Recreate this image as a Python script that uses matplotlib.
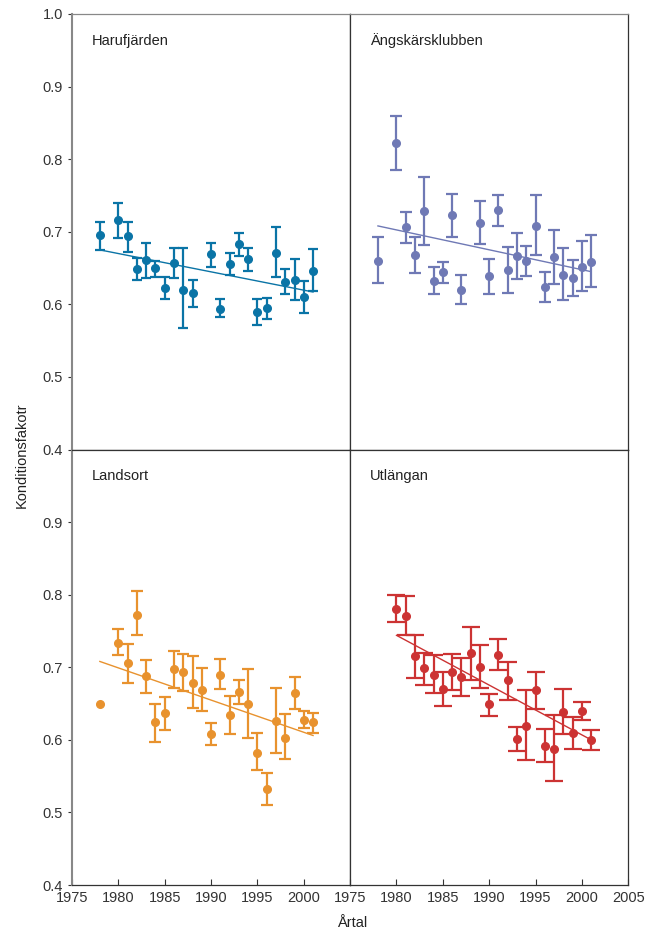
import matplotlib
matplotlib.use("Agg")
import matplotlib.pyplot as plt
import numpy as np

plt.rcParams['font.family'] = ['Liberation Sans', 'DejaVu Sans']

# --- data ---
years_haru = [1978, 1980, 1981, 1982, 1983, 1984, 1985, 1986, 1987, 1988, 1990,
              1991, 1992, 1993, 1994, 1995, 1996, 1997, 1998, 1999, 2000, 2001]
mean_haru = [0.695, 0.716, 0.694, 0.649, 0.661, 0.650, 0.623, 0.657, 0.620, 0.615, 0.669,
             0.594, 0.656, 0.683, 0.663, 0.589, 0.595, 0.671, 0.631, 0.634, 0.610, 0.646]
low_haru = [0.675, 0.691, 0.672, 0.634, 0.636, 0.638, 0.608, 0.636, 0.567, 0.597, 0.651,
            0.582, 0.640, 0.667, 0.646, 0.571, 0.580, 0.638, 0.614, 0.606, 0.588, 0.618]
high_haru = [0.713, 0.740, 0.714, 0.664, 0.685, 0.660, 0.638, 0.678, 0.678, 0.633, 0.685,
             0.607, 0.671, 0.698, 0.678, 0.608, 0.609, 0.706, 0.648, 0.663, 0.632, 0.676]
trend_haru = [(1978, 0.675), (2001, 0.617)]

years_angs = [1978, 1980, 1981, 1982, 1983, 1984, 1985, 1986, 1987, 1989, 1990,
              1991, 1992, 1993, 1994, 1995, 1996, 1997, 1998, 1999, 2000, 2001]
mean_angs = [0.660, 0.822, 0.706, 0.668, 0.728, 0.632, 0.644, 0.723, 0.620, 0.712, 0.639,
             0.730, 0.647, 0.666, 0.660, 0.708, 0.624, 0.665, 0.641, 0.636, 0.652, 0.659]
low_angs = [0.629, 0.785, 0.685, 0.643, 0.682, 0.614, 0.630, 0.693, 0.600, 0.683, 0.614,
            0.708, 0.615, 0.635, 0.639, 0.668, 0.603, 0.628, 0.606, 0.611, 0.619, 0.624]
high_angs = [0.693, 0.860, 0.727, 0.693, 0.775, 0.651, 0.658, 0.752, 0.640, 0.743, 0.663,
             0.751, 0.679, 0.698, 0.681, 0.751, 0.645, 0.702, 0.678, 0.661, 0.687, 0.695]
trend_angs = [(1978, 0.708), (2001, 0.645)]

years_land = [1978, 1980, 1981, 1982, 1983, 1984, 1985, 1986, 1987, 1988, 1989, 1990,
              1991, 1992, 1993, 1994, 1995, 1996, 1997, 1998, 1999, 2000, 2001]
mean_land = [0.649, 0.734, 0.706, 0.772, 0.688, 0.624, 0.637, 0.698, 0.693, 0.679, 0.669, 0.608,
             0.690, 0.634, 0.666, 0.650, 0.582, 0.532, 0.626, 0.603, 0.664, 0.627, 0.624]
low_land = [0.649, 0.717, 0.678, 0.745, 0.665, 0.597, 0.614, 0.671, 0.667, 0.644, 0.640, 0.593,
            0.670, 0.608, 0.649, 0.603, 0.558, 0.510, 0.582, 0.574, 0.643, 0.616, 0.610]
high_land = [0.649, 0.753, 0.732, 0.805, 0.710, 0.650, 0.659, 0.722, 0.718, 0.715, 0.699, 0.623,
             0.712, 0.660, 0.683, 0.698, 0.609, 0.554, 0.671, 0.636, 0.686, 0.640, 0.637]
trend_land = [(1978, 0.708), (2001, 0.606)]

years_utl = [1980, 1981, 1982, 1983, 1984, 1985, 1986, 1987, 1988, 1989, 1990,
             1991, 1992, 1993, 1994, 1995, 1996, 1997, 1998, 1999, 2000, 2001]
mean_utl = [0.780, 0.770, 0.716, 0.699, 0.690, 0.670, 0.693, 0.686, 0.719, 0.701, 0.649,
            0.717, 0.682, 0.601, 0.619, 0.669, 0.592, 0.588, 0.638, 0.610, 0.640, 0.600]
low_utl = [0.762, 0.745, 0.685, 0.675, 0.665, 0.647, 0.668, 0.660, 0.683, 0.671, 0.633,
           0.696, 0.655, 0.584, 0.572, 0.643, 0.569, 0.544, 0.608, 0.588, 0.628, 0.586]
high_utl = [0.799, 0.798, 0.745, 0.720, 0.717, 0.693, 0.718, 0.713, 0.755, 0.731, 0.663,
            0.739, 0.707, 0.618, 0.668, 0.694, 0.615, 0.634, 0.670, 0.632, 0.652, 0.614]
trend_utl = [(1980, 0.744), (2001, 0.600)]

panels = [
    ("Harufjärden", years_haru, mean_haru, low_haru, high_haru, trend_haru, "#0a74a6", 3.5),
    ("Ängskärsklubben", years_angs, mean_angs, low_angs, high_angs, trend_angs, "#6f79b5", 4.0),
    ("Landsort", years_land, mean_land, low_land, high_land, trend_land, "#e8922e", 4.0),
    ("Utlängan", years_utl, mean_utl, low_utl, high_utl, trend_utl, "#cc3333", 6.5),
]

fig, axes = plt.subplots(2, 2, figsize=(6.49, 9.32), dpi=100)
fig.subplots_adjust(left=0.111, right=0.968, top=0.985, bottom=0.0504, wspace=0, hspace=0)

for ax, (name, yrs, mean, low, high, trend, col, cap) in zip(axes.flat, panels):
    yrs = np.array(yrs)
    mean = np.array(mean)
    low = np.array(low)
    high = np.array(high)
    has_err = (high - low) > 0
    yerr = [mean[has_err] - low[has_err], high[has_err] - mean[has_err]]
    ax.errorbar(yrs[has_err], mean[has_err], yerr=yerr, fmt='none', ecolor=col,
                elinewidth=1.6, capsize=cap, capthick=1.6, zorder=3)
    ax.plot(yrs, mean, 'o', color=col, ms=5.5, zorder=4)
    tx, ty = zip(*trend)
    ax.plot(tx, ty, color=col, lw=1.0, zorder=2)
    ax.set_xlim(1975, 2005)
    ax.set_ylim(0.4, 1.0)
    ax.text(0.072, 0.939, name, transform=ax.transAxes, fontsize=10.5, color="#222222",
            ha='left', va='center')
    for s in ax.spines.values():
        s.set_linewidth(0.9)
        s.set_color("#333333")
    ax.tick_params(labelsize=10.5, colors="#333333", width=0.8)

for ax in axes[:, 1]:
    ax.set_yticks([])
for ax in axes[:, 0]:
    ax.spines['left'].set_color("#888888")
    ax.spines['left'].set_linewidth(1.5)
    ax.tick_params(axis='y', direction='out', length=3)
axes[0, 0].spines['top'].set_color("#888888")
axes[0, 1].spines['top'].set_color("#888888")

axes[0, 0].set_yticks([0.4, 0.5, 0.6, 0.7, 0.8, 0.9, 1.0])
axes[0, 0].set_yticklabels(["0.4", "0.5", "0.6", "0.7", "0.8", "0.9", "1.0"])
axes[1, 0].set_yticks([0.4, 0.5, 0.6, 0.7, 0.8, 0.9])
axes[1, 0].set_yticklabels(["0.4", "0.5", "0.6", "0.7", "0.8", "0.9"])

for ax in axes[0, :]:
    ax.set_xticks([])
axes[1, 0].set_xticks([1975, 1980, 1985, 1990, 1995, 2000])
axes[1, 1].set_xticks([1975, 1980, 1985, 1990, 1995, 2000, 2005])
for ax in axes[1, :]:
    ax.tick_params(axis='x', direction='in', length=4, pad=4)

fig.text(0.034, 0.512, "Konditionsfakotr", rotation=90, ha='center', va='center',
         fontsize=10.5, color="#222222")
fig.text(0.542, 0.002, "Årtal", ha='center', va='bottom', fontsize=10.5, color="#222222")

fig.savefig("out.png", dpi=100)
